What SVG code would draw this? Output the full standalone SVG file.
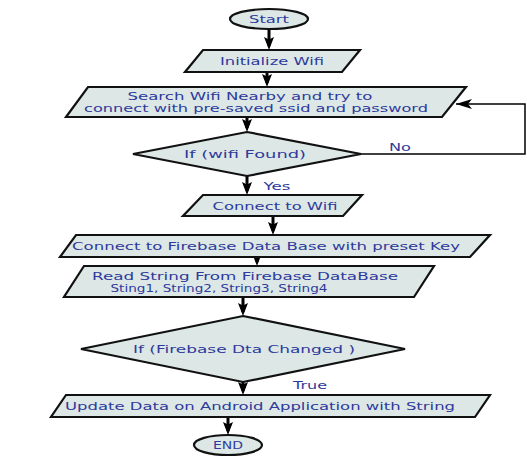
<svg xmlns="http://www.w3.org/2000/svg" width="527" height="457" viewBox="0 0 527 457">
<defs>
<marker id="ah" viewBox="0 0 13 10" refX="9" refY="5" markerWidth="13" markerHeight="10" markerUnits="userSpaceOnUse" orient="auto">
<path d="M0,0 L13,5 L0,10 L2.5,5 z" fill="#000"/>
</marker>
<marker id="ah2" viewBox="0 0 16 10" refX="16" refY="5" markerWidth="16" markerHeight="10" markerUnits="userSpaceOnUse" orient="auto">
<path d="M0,0 L16,5 L0,10 L4,5 z" fill="#000"/>
</marker>
</defs>
<style>
.sh{fill:#dde8e6;stroke:#111;stroke-width:2.2}
.t{font-family:"DejaVu Sans",Verdana,sans-serif;font-size:10.5px;fill:#2e3a9c;text-anchor:middle}
.c{stroke:#000;stroke-width:3;fill:none;marker-end:url(#ah)}
.fb{stroke:#000;stroke-width:1.5;fill:none;marker-end:url(#ah2)}
</style>
<rect width="527" height="457" fill="#fff"/>
<g id="connectors">
<line class="c" x1="269" y1="29" x2="269" y2="46"/>
<line class="c" x1="267" y1="72" x2="267" y2="83"/>
<line class="c" x1="247" y1="117" x2="247" y2="128"/>
<line class="c" x1="247" y1="176" x2="247" y2="191"/>
<line class="c" x1="273" y1="216" x2="273" y2="231"/>
<line class="c" x1="257" y1="256" x2="257" y2="262"/>
<line class="c" x1="243" y1="297" x2="243" y2="312"/>
<line class="c" x1="243" y1="382" x2="243" y2="391"/>
<line class="c" x1="228" y1="417" x2="228" y2="431"/>
<polyline class="fb" points="360,154 525,154 525,104 456,104"/>
<text class="t" x="400" y="151" textLength="22" lengthAdjust="spacingAndGlyphs">No</text>
<text class="t" x="277" y="190" textLength="27" lengthAdjust="spacingAndGlyphs">Yes</text>
<text class="t" x="310" y="389" textLength="34" lengthAdjust="spacingAndGlyphs">True</text>
</g>
<g id="start">
<ellipse class="sh" cx="269" cy="19" rx="39" ry="10"/>
<text class="t" x="269" y="23" textLength="40" lengthAdjust="spacingAndGlyphs">Start</text>
</g>
<g id="init">
<polygon class="sh" points="203,50 360,50 342,72 185,72"/>
<text class="t" x="272" y="65" textLength="104" lengthAdjust="spacingAndGlyphs">Initialize Wifi</text>
</g>
<g id="search">
<polygon class="sh" points="88,87 466,87 442,117 66,117"/>
<text class="t" x="250" y="100" textLength="245" lengthAdjust="spacingAndGlyphs">Search Wifi Nearby and try to</text>
<text class="t" x="256" y="112" textLength="344" lengthAdjust="spacingAndGlyphs">connect with pre-saved ssid and password</text>
</g>
<g id="wifi-found">
<polygon class="sh" points="247,132 361,154 247,176 133,154"/>
<text class="t" x="245" y="158" textLength="122" lengthAdjust="spacingAndGlyphs">If (wifi Found)</text>
</g>
<g id="connect-wifi">
<polygon class="sh" points="203,195 362,195 343,216 183,216"/>
<text class="t" x="275" y="210" textLength="125" lengthAdjust="spacingAndGlyphs">Connect to Wifi</text>
</g>
<g id="connect-firebase">
<polygon class="sh" points="76,235 490,235 470,257 60,257"/>
<text class="t" x="266" y="250" textLength="388" lengthAdjust="spacingAndGlyphs">Connect to Firebase Data Base with preset Key</text>
</g>
<g id="read">
<polygon class="sh" points="84,266 434,266 414,297 64,297"/>
<text class="t" x="245" y="280" textLength="306" lengthAdjust="spacingAndGlyphs">Read String From Firebase DataBase</text>
<text class="t" x="219" y="292" textLength="217" lengthAdjust="spacingAndGlyphs">Sting1, String2, String3, String4</text>
</g>
<g id="data-changed">
<polygon class="sh" points="243,316 405,349 243,382 81,349"/>
<text class="t" x="244" y="353" textLength="222" lengthAdjust="spacingAndGlyphs">If (Firebase Dta Changed )</text>
</g>
<g id="update">
<polygon class="sh" points="66,395 490,395 475,417 51,417"/>
<text class="t" x="260" y="410" textLength="390" lengthAdjust="spacingAndGlyphs">Update Data on Android Application with String</text>
</g>
<g id="end">
<ellipse class="sh" cx="228" cy="445" rx="34" ry="10"/>
<text class="t" x="228" y="449" textLength="30" lengthAdjust="spacingAndGlyphs">END</text>
</g>
</svg>
